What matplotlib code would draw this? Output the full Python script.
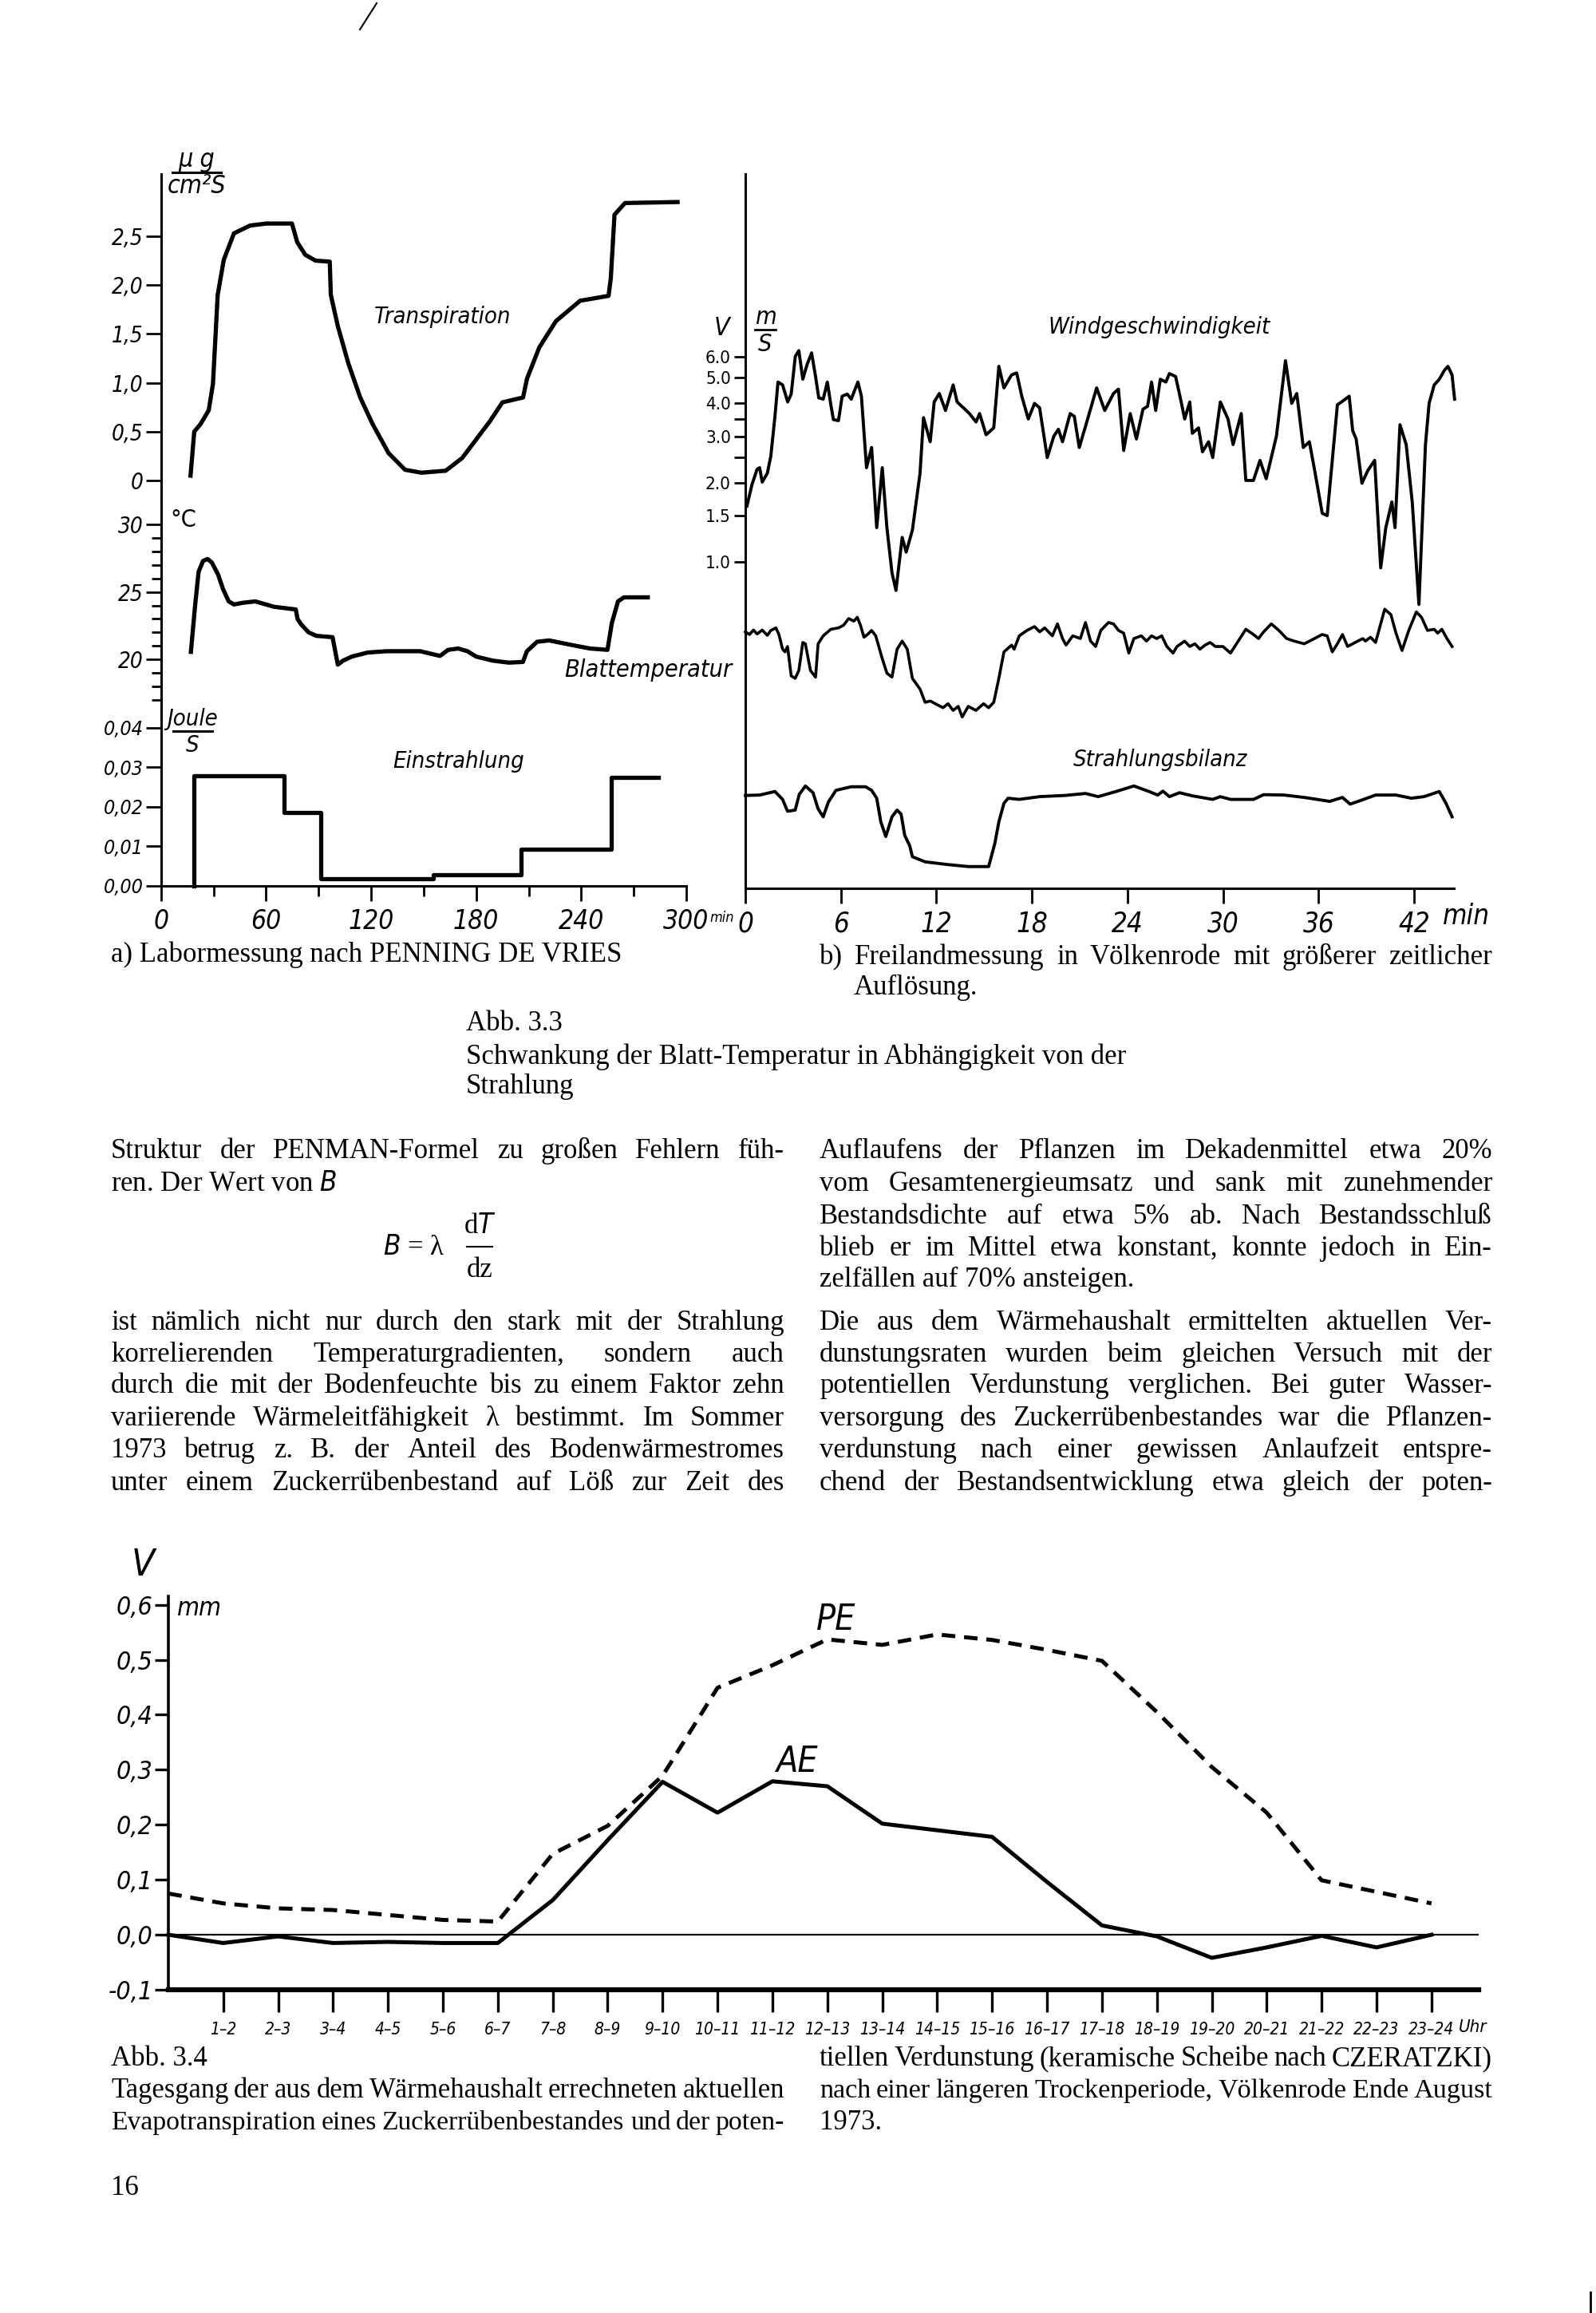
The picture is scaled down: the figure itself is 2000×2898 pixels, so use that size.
import matplotlib
matplotlib.use('Agg')
import matplotlib.pyplot as plt
from matplotlib.lines import Line2D
from matplotlib.ticker import NullLocator

W, H = 2000, 2898
SANS = ['Liberation Sans Narrow', 'DejaVu Sans']
SERIF = ['Liberation Serif', 'DejaVu Serif']
plt.rcParams['font.stretch'] = 'condensed'

# ---- Abb. 3.3 a) Labormessung (x in min) ----
tr_t = [16.9, 19.0, 22.7, 27.3, 29.7, 32.4, 35.9, 41.7, 51.0, 60.3, 74.8, 77.8, 82.4, 88.3, 96.4,
        97.0, 101.0, 107.0, 113.8, 120.8, 130.0, 139.4, 148.7, 162.6, 172.0, 188.0, 195.0,
        206.8, 209.0, 216.0, 225.5, 239.4, 255.6, 256.9, 259.0, 265.0, 295.0]
tr_v = [0.05, 0.50, 0.58, 0.72, 0.99, 1.90, 2.26, 2.53, 2.61, 2.63, 2.63, 2.44, 2.31, 2.25, 2.24,
        1.90, 1.58, 1.20, 0.85, 0.58, 0.28, 0.11, 0.08, 0.10, 0.23, 0.61, 0.80,
        0.85, 1.04, 1.36, 1.63, 1.84, 1.89, 2.07, 2.72, 2.84, 2.85]

ta_t = [17.1, 19.5, 21.5, 24.0, 26.6, 29.0, 32.6, 35.5, 38.7, 41.7, 47.0, 53.9, 64.5, 77.0, 78.0,
        80.0, 84.3, 88.8, 98.0, 101.0, 104.0, 109.0, 118.0, 129.0, 148.0, 159.4, 164.0, 169.7,
        175.0, 180.0, 189.4, 198.6, 206.7, 209.0, 214.8, 221.7, 233.0, 245.0, 255.0, 257.5,
        261.0, 264.4, 278.0]
ta_v = [20.55, 24.0, 26.5, 27.3, 27.45, 27.2, 26.3, 25.2, 24.3, 24.07, 24.2, 24.3, 23.9, 23.7, 23.0,
        22.6, 22.0, 21.74, 21.64, 19.6, 19.9, 20.2, 20.5, 20.6, 20.6, 20.25, 20.7, 20.8,
        20.6, 20.2, 19.9, 19.75, 19.8, 20.6, 21.3, 21.4, 21.1, 20.8, 20.7, 22.7,
        24.3, 24.6, 24.6]

ein_t = [19.0, 19.0, 70.5, 91.5, 155.5, 205.5, 257.0, 284.0]
ein_v = [0.0, 0.0279, 0.0186, 0.0018, 0.0029, 0.0093, 0.0274, 0.0274]

# ---- Abb. 3.3 b) Freilandmessung (x in min) ----
wind_t = [0.10, 0.42, 0.74, 0.90, 1.06, 1.38, 1.60, 1.86, 2.05, 2.34,
          2.66, 2.88, 3.14, 3.36, 3.61, 3.87, 4.16, 4.41, 4.61, 4.89,
          5.15, 5.37, 5.53, 5.85, 6.08, 6.40, 6.65, 7.07, 7.29, 7.61,
          7.93, 8.25, 8.60, 8.89, 9.21, 9.46, 9.85, 10.10, 10.49, 10.97,
          11.19, 11.61, 11.86, 12.18, 12.57, 13.05, 13.30, 13.69, 14.07, 14.49,
          14.71, 15.12, 15.60, 15.92, 16.24, 16.72, 17.04, 17.36, 17.77, 18.16,
          18.48, 18.96, 19.37, 19.66, 19.92, 20.40, 20.66, 20.97, 21.52, 22.06,
          22.57, 23.12, 23.43, 23.76, 24.17, 24.56, 24.97, 25.26, 25.51, 25.77,
          26.06, 26.41, 26.63, 27.02, 27.37, 27.59, 27.91, 28.07, 28.46, 28.71,
          29.09, 29.35, 29.83, 30.31, 30.63, 31.14, 31.43, 31.91, 32.32, 32.71,
          33.35, 33.92, 34.31, 34.63, 35.04, 35.42, 35.75, 36.23, 36.54, 37.18,
          37.56, 37.92, 38.14, 38.36, 38.72, 39.10, 39.52, 39.90, 40.22, 40.60,
          40.80, 41.11, 41.50, 41.88, 42.30, 42.71, 42.94, 43.26, 43.58, 43.89,
          44.12, 44.38, 44.54]
wind_v = [1.63, 1.97, 2.25, 2.28, 2.01, 2.17, 2.52, 3.57, 4.82, 4.70,
          4.05, 4.34, 6.04, 6.34, 4.94, 5.60, 6.22, 5.06, 4.20, 4.15,
          4.82, 3.95, 3.47, 3.44, 4.26, 4.34, 4.15, 4.82, 4.26, 2.28,
          2.72, 1.35, 2.28, 1.35, 0.91, 0.78, 1.24, 1.09, 1.32, 2.17,
          3.53, 2.86, 4.05, 4.36, 3.76, 4.70, 4.05, 3.85, 3.66, 3.40,
          3.66, 3.04, 3.23, 5.53, 4.58, 5.13, 5.22, 4.26, 3.49, 4.00,
          3.85, 2.49, 3.00, 3.19, 2.86, 3.66, 3.57, 2.72, 3.53, 4.58,
          3.76, 4.36, 4.53, 2.65, 3.66, 2.93, 3.80, 3.90, 4.82, 3.76,
          4.94, 4.82, 5.19, 5.06, 4.05, 3.49, 4.05, 3.08, 3.23, 2.62,
          2.86, 2.49, 4.05, 3.49, 2.79, 3.66, 2.04, 2.04, 2.43, 2.07,
          3.00, 5.81, 4.00, 4.36, 2.72, 2.86, 2.23, 1.53, 1.50, 3.95,
          4.10, 4.26, 3.15, 2.93, 1.99, 2.23, 2.43, 0.95, 1.35, 1.69,
          1.35, 3.32, 2.79, 1.69, 0.69, 2.79, 4.00, 4.70, 4.94, 5.33,
          5.53, 5.13, 4.15]

tb_t = [0.00, 0.26, 0.51, 0.74, 1.06, 1.38, 1.60, 1.92, 2.11, 2.34, 2.49, 2.65, 2.88, 3.13, 3.36,
        3.61, 3.77, 4.09, 4.41, 4.57, 4.89, 5.37, 5.85, 6.17, 6.49, 6.81, 7.03, 7.23, 7.45, 7.67,
        7.93, 8.19, 8.57, 8.89, 9.21, 9.53, 9.85, 10.17, 10.49, 10.97, 11.29, 11.61, 12.09, 12.41,
        12.73, 13.05, 13.37, 13.62, 14.00, 14.48, 14.96, 15.28, 15.60, 15.92, 16.24, 16.72, 16.88,
        17.20, 17.68, 18.16, 18.48, 18.80, 19.28, 19.60, 19.92, 20.14, 20.56, 21.04, 21.36, 21.68,
        22.00, 22.32, 22.80, 23.12, 23.44, 23.76, 24.08, 24.40, 24.87, 25.19, 25.51, 25.83, 26.15,
        26.47, 26.86, 27.11, 27.59, 27.91, 28.23, 28.55, 28.87, 29.19, 29.51, 29.99, 30.47, 30.95,
        31.43, 31.91, 32.23, 32.55, 33.03, 33.51, 33.99, 34.47, 35.10, 35.74, 36.22, 36.54, 36.86,
        37.18, 37.50, 37.82, 38.30, 38.78, 38.94, 39.26, 39.58, 40.15, 40.54, 40.86, 41.24, 41.66,
        42.14, 42.46, 42.84, 43.26, 43.48, 43.74, 44.06, 44.38]
tb_v = [22.04, 21.84, 22.17, 21.88, 22.17, 21.78, 22.14, 22.33, 21.84, 20.75, 20.55, 20.95, 18.77, 18.58, 19.17,
        21.25, 21.15, 19.17, 18.67, 21.15, 21.74, 22.23, 22.33, 22.53, 23.03, 22.83, 23.12, 22.53, 21.64, 21.84,
        22.14, 21.74, 20.16, 18.97, 18.67, 20.75, 21.35, 20.75, 18.58, 17.79, 16.80, 16.90, 16.60, 16.40,
        16.70, 16.20, 16.50, 15.71, 16.50, 16.20, 16.70, 16.40, 16.80, 18.58, 20.55, 21.05, 20.75,
        21.74, 22.14, 22.43, 22.04, 22.33, 21.74, 22.63, 21.54, 21.05, 21.74, 21.54, 22.73, 21.35,
        20.95, 22.14, 22.73, 22.63, 22.14, 21.94, 20.46, 21.54, 21.74, 21.35, 21.74, 21.54, 21.74,
        20.95, 20.46, 20.95, 21.35, 20.95, 21.15, 20.75, 21.05, 21.25, 20.95, 20.95, 20.46, 21.35,
        22.23, 21.84, 21.54, 22.04, 22.63, 22.14, 21.54, 21.35, 21.15, 21.54, 21.84, 21.74, 20.55,
        21.15, 21.84, 20.95, 21.25, 21.54, 21.35, 21.64, 21.25, 23.72, 23.32, 21.94, 20.65, 22.14,
        23.52, 23.12, 22.14, 22.23, 21.94, 22.23, 21.54, 20.95]

sb_t = [0.00, 0.90, 1.86, 2.34, 2.65, 3.13, 3.39, 3.77, 4.25, 4.57, 4.89, 5.21, 5.69, 6.65, 7.55,
        7.93, 8.25, 8.51, 8.82, 9.21, 9.53, 9.78, 10.01, 10.33, 10.49, 11.29, 12.73, 14.00, 15.28,
        15.67, 15.92, 16.24, 16.50, 17.20, 18.48, 20.08, 21.36, 22.16, 23.28, 24.40, 25.35, 25.90,
        26.22, 26.63, 27.27, 28.07, 29.35, 29.83, 30.47, 31.91, 32.55, 33.83, 35.10, 36.70, 37.50,
        37.98, 38.62, 39.58, 40.86, 41.82, 42.62, 43.58, 44.00, 44.38]
sb_v = [0.0229, 0.0230, 0.0239, 0.0219, 0.0189, 0.0192, 0.0232, 0.0253, 0.0236, 0.0195, 0.0175, 0.0212,
        0.0242, 0.0251, 0.0251, 0.0242, 0.0222, 0.0162, 0.0125, 0.0175, 0.0192, 0.0182, 0.0128, 0.0101,
        0.0074, 0.0061, 0.0054, 0.0049, 0.0049, 0.0108, 0.0162, 0.0209, 0.0222, 0.0219, 0.0226, 0.0229,
        0.0234, 0.0226, 0.0239, 0.0253, 0.0239, 0.0230, 0.0240, 0.0226, 0.0236, 0.0228, 0.0219, 0.0226,
        0.0219, 0.0219, 0.0231, 0.0230, 0.0224, 0.0214, 0.0224, 0.0207, 0.0216, 0.0230, 0.0230, 0.0222,
        0.0226, 0.0239, 0.0209, 0.0175]

# ---- Abb. 3.4 Tagesgang (Stundenintervalle) ----
hours = ['1–2', '2–3', '3–4', '4–5', '5–6', '6–7', '7–8', '8–9', '9–10', '10–11', '11–12', '12–13',
         '13–14', '14–15', '15–16', '16–17', '17–18', '18–19', '19–20', '20–21', '21–22', '22–23', '23–24']
pe = [0.075, 0.057, 0.048, 0.045, 0.036, 0.027, 0.024, 0.147, 0.198, 0.289, 0.449, 0.49, 0.537, 0.527,
      0.546, 0.536, 0.518, 0.498, 0.405, 0.305, 0.222, 0.099, 0.078, 0.057]
ae = [0.0, -0.015, -0.003, -0.015, -0.013, -0.015, -0.015, 0.063, 0.172, 0.278, 0.222, 0.279, 0.270,
      0.202, 0.190, 0.178, 0.096, 0.017, -0.003, -0.042, -0.023, -0.002, -0.023, 0.0]

fig = plt.figure(figsize=(20, 28.98), dpi=100)
fig.patch.set_facecolor('white')


def fx(x):
    return x / W


def fy(y):
    return 1 - y / H


def box(l, t, r, b):
    ax = fig.add_axes([l / W, 1 - b / H, (r - l) / W, (b - t) / H])
    ax.patch.set_alpha(0)
    for s in ax.spines.values():
        s.set_visible(False)
        s.set_linewidth(2.2)
    ax.tick_params(width=2, length=14, direction='out', colors='black')
    ax.tick_params(which='minor', width=2, length=9, direction='out')
    ax.set_xticks([])
    ax.set_yticks([])
    return ax


def txt(x, y, s, size=20, ha='center', va='center', fam=SANS, style='italic', **kw):
    return fig.text(fx(x), fy(y), s, fontsize=size, ha=ha, va=va, family=fam, style=style,
                    stretch='condensed', **kw)


def rule(x0, x1, y0, y1, lw=2.0):
    fig.add_artist(Line2D([fx(x0), fx(x1)], [fy(y0), fy(y1)], color='black', lw=lw))


TICKF = dict(family=SANS, style='italic', stretch='condensed')

# ================= panel a =================
ax_tr = box(201.7, 218, 860, 628)
ax_tr.set_xlim(0, 300)
ax_tr.set_ylim(-0.212, 3.137)
ax_tr.spines['left'].set_visible(True)
ax_tr.set_yticks([0, 0.5, 1.0, 1.5, 2.0, 2.5], labels=['0', '0,5', '1,0', '1,5', '2,0', '2,5'],
                 fontsize=20, **TICKF)
ax_tr.tick_params(axis='y', pad=2)
ax_tr.plot(tr_t, tr_v, color='black', lw=3.8, solid_joinstyle='round', clip_on=False)

ax_ta = box(201.7, 628, 860, 895)
ax_ta.set_xlim(0, 300)
ax_ta.set_ylim(15.91, 31.74)
ax_ta.spines['left'].set_visible(True)
ax_ta.set_yticks([20, 25, 30], labels=['20', '25', '30'], fontsize=20, **TICKF)
ax_ta.set_yticks([17, 18, 19, 21, 22, 23, 24, 26, 27, 28, 29], minor=True)
ax_ta.tick_params(axis='y', pad=2)
ax_ta.plot(ta_t, ta_v, color='black', lw=3.8, solid_joinstyle='round', clip_on=False)

ax_j = box(201.7, 895, 860, 1110)
ax_j.set_xlim(0, 300)
ax_j.set_ylim(0, 0.04343)
ax_j.spines['left'].set_visible(True)
ax_j.spines['bottom'].set_visible(True)
ax_j.set_yticks([0, 0.01, 0.02, 0.03, 0.04], labels=['0,00', '0,01', '0,02', '0,03', '0,04'],
                fontsize=18, **TICKF)
ax_j.tick_params(axis='y', pad=2)
ax_j.set_xticks([0, 60, 120, 180, 240, 300], labels=['0', '60', '120', '180', '240', '300'],
                fontsize=24, **TICKF)
ax_j.set_xticks([30, 90, 150, 210, 270], minor=True)
ax_j.tick_params(axis='x', pad=6)
ax_j.step(ein_t, ein_v, where='post', color='black', lw=3.8, clip_on=False)

txt(889, 1150, 'min', size=13, ha='left')
txt(246, 201, 'μ g', size=23)
rule(216, 277, 216, 216, lw=2.2)
txt(246, 234, 'cm²S', size=23)
txt(230, 652, '°C', size=22, style='normal')
txt(241, 901, 'Joule', size=21)
rule(217, 266, 916, 916, lw=2.2)
txt(241, 934, 'S', size=21)
txt(555, 397, 'Transpiration', size=21)
txt(918, 839, 'Blattemperatur', size=22, ha='right')
txt(575, 954, 'Einstrahlung', size=21)

# ================= panel b =================
ax_b = box(934, 218, 1822, 1113)
ax_b.set_xlim(0, 44.5)
ax_b.set_ylim(0, 1)
ax_b.spines['left'].set_visible(True)
ax_b.spines['bottom'].set_visible(True)
ax_b.set_xticks([0, 6, 12, 18, 24, 30, 36, 42], labels=['0', '6', '12', '18', '24', '30', '36', '42'],
                fontsize=25, **TICKF)
ax_b.tick_params(axis='x', pad=6)

ax_w = box(934, 218, 1822, 780)
ax_w.set_xlim(0, 44.5)
ax_w.set_yscale('log')
ax_w.set_ylim(0.589, 29.7)
ax_w.set_yticks([1.0, 1.5, 2.0, 2.5, 3.0, 3.5, 4.0, 5.0, 6.0],
                labels=['1.0', '1.5', '2.0', '', '3.0', '', '4.0', '5.0', '6.0'],
                fontsize=16, family=SANS, stretch='condensed')
ax_w.yaxis.set_minor_locator(NullLocator())
ax_w.tick_params(axis='y', length=10, pad=3)
ax_w.plot(wind_t, wind_v, color='black', lw=2.8, solid_joinstyle='round', clip_on=False)

ax_tb = box(934, 628, 1822, 895)
ax_tb.set_xlim(0, 44.5)
ax_tb.set_ylim(15.91, 31.74)
ax_tb.plot(tb_t, tb_v, color='black', lw=2.6, solid_joinstyle='round', clip_on=False)

ax_sb = box(934, 895, 1822, 1110)
ax_sb.set_xlim(0, 44.5)
ax_sb.set_ylim(0, 0.04343)
ax_sb.plot(sb_t, sb_v, color='black', lw=2.8, solid_joinstyle='round', clip_on=False)

txt(1808, 1148, 'min', size=25, ha='left')
txt(905, 412, 'V', size=23)
txt(959, 398, 'm', size=22)
rule(946, 972, 413, 413, lw=2)
txt(959, 431, 'S', size=22)
txt(1453, 410, 'Windgeschwindigkeit', size=21)
txt(1454, 952, 'Strahlungsbilanz', size=21)

# ================= text =================
renderer = fig.canvas.get_renderer()
BODY = 25


def line(s, x0, y, x1=None, size=BODY):
    if x1 is None:
        fig.text(fx(x0), fy(y), s, fontsize=size, family=SERIF, va='baseline')
        return
    words = s.split()
    arts = [fig.text(0, fy(y), w, fontsize=size, family=SERIF, va='baseline') for w in words]
    widths = [a.get_window_extent(renderer).width for a in arts]
    gmin = 0.25 * size
    avail = x1 - x0
    if sum(widths) + gmin * (len(words) - 1) > avail:
        k = (avail - gmin * (len(words) - 1)) / sum(widths)
        for a in arts:
            a.set_fontsize(size * k)
        widths = [w * k for w in widths]
    gap = (avail - sum(widths)) / (len(words) - 1)
    x = x0
    for a, w in zip(arts, widths):
        a.set_x(fx(x))
        x += w + gap


L0, L1, R0, R1 = 139, 983, 1027, 1870

line('a) Labormessung nach PENNING DE VRIES', L0, 1205)
line('b) Freilandmessung in Völkenrode mit größerer zeitlicher', R0, 1208, R1)
line('Auflösung.', 1070, 1246)
line('Abb. 3.3', 584, 1291)
line('Schwankung der Blatt-Temperatur in Abhängigkeit von der', 584, 1333)
line('Strahlung', 584, 1370)

left_col = [('Struktur der PENMAN-Formel zu großen Fehlern füh-', 1451, True),
            ('ren. Der Wert von $B$', 1492, False),
            ('ist nämlich nicht nur durch den stark mit der Strahlung', 1666, True),
            ('korrelierenden Temperaturgradienten, sondern auch', 1706, True),
            ('durch die mit der Bodenfeuchte bis zu einem Faktor zehn', 1745, True),
            ('variierende Wärmeleitfähigkeit λ bestimmt. Im Sommer', 1786, True),
            ('1973 betrug z. B. der Anteil des Bodenwärmestromes', 1826, True),
            ('unter einem Zuckerrübenbestand auf Löß zur Zeit des', 1867, True)]
right_col = [('Auflaufens der Pflanzen im Dekadenmittel etwa 20%', 1451, True),
             ('vom Gesamtenergieumsatz und sank mit zunehmender', 1492, True),
             ('Bestandsdichte auf etwa 5% ab. Nach Bestandsschluß', 1533, True),
             ('blieb er im Mittel etwa konstant, konnte jedoch in Ein-', 1573, True),
             ('zelfällen auf 70% ansteigen.', 1612, False),
             ('Die aus dem Wärmehaushalt ermittelten aktuellen Ver-', 1666, True),
             ('dunstungsraten wurden beim gleichen Versuch mit der', 1706, True),
             ('potentiellen Verdunstung verglichen. Bei guter Wasser-', 1745, True),
             ('versorgung des Zuckerrübenbestandes war die Pflanzen-', 1786, True),
             ('verdunstung nach einer gewissen Anlaufzeit entspre-', 1826, True),
             ('chend der Bestandsentwicklung etwa gleich der poten-', 1867, True)]
for s, y, j in left_col:
    line(s, L0, y, L1 if j else None)
for s, y, j in right_col:
    line(s, R0, y, R1 if j else None)

# formula B = lambda dT/dz
fig.text(fx(480), fy(1572), '$B$ = λ', fontsize=BODY, family=SERIF, va='baseline')
fig.text(fx(601), fy(1545), 'd$T$', fontsize=BODY, family=SERIF, ha='center', va='baseline')
rule(585, 617, 1562, 1562, lw=1.5)
fig.text(fx(601), fy(1600), 'dz', fontsize=BODY, family=SERIF, ha='center', va='baseline')

line('Abb. 3.4', L0, 2588)
line('Tagesgang der aus dem Wärmehaushalt errechneten aktuellen', L0, 2628, L1)
line('Evapotranspiration eines Zuckerrübenbestandes und der poten-', L0, 2668, L1)
line('tiellen Verdunstung (keramische Scheibe nach CZERATZKI)', R0, 2588, R1)
line('nach einer längeren Trockenperiode, Völkenrode Ende August', R0, 2628, R1)
line('1973.', R0, 2668)
line('16', 139, 2750)

# ================= Abb. 3.4 chart =================
ax_c = box(210.9, 2000, 1853, 2493)
ax_c.set_xlim(0, 23.86)
ax_c.set_ylim(-0.1, 0.6154)
ax_c.spines['left'].set_visible(True)
ax_c.spines['left'].set_linewidth(2.6)
ax_c.spines['bottom'].set_visible(True)
ax_c.spines['bottom'].set_linewidth(4.5)
ax_c.set_yticks([-0.1, 0, 0.1, 0.2, 0.3, 0.4, 0.5, 0.6],
                labels=['-0,1', '0,0', '0,1', '0,2', '0,3', '0,4', '0,5', '0,6'],
                fontsize=23, **TICKF)
ax_c.tick_params(axis='y', length=12, width=2.4, pad=2)
xs = list(range(len(pe)))
ax_c.set_xticks(xs[1:], labels=hours, fontsize=15, **TICKF)
ax_c.tick_params(axis='x', length=20, width=2.4, pad=9)
ax_c.axhline(0, color='black', lw=1.6)
ax_c.plot(xs, pe, color='black', lw=3.6, dashes=(3.4, 2.2), clip_on=False)
ax_c.plot(xs, ae, color='black', lw=3.6, clip_on=False)

txt(179, 1962, 'V', size=34)
txt(250, 2016, 'mm', size=23)
txt(1048, 2030, 'PE', size=32)
txt(998, 2207, 'AE', size=32)
txt(1828, 2540, 'Uhr', size=16, ha='left')

# scan marks
rule(451, 472, 37, 4, lw=1.5)
rule(1993, 1993, 2872, 2898, lw=2)

fig.savefig('out.png', dpi=100, facecolor='white')
